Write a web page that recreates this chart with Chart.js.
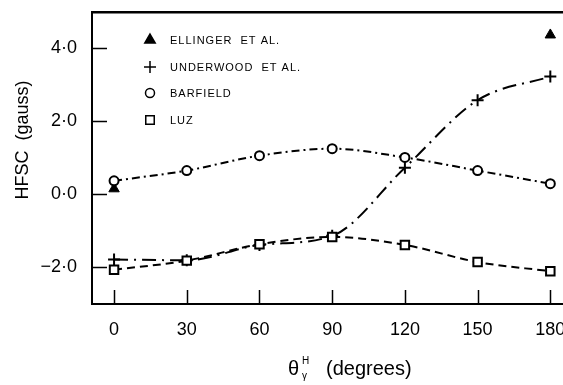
<!DOCTYPE html>
<html>
<head>
<meta charset="utf-8">
<script src="https://cdn.jsdelivr.net/npm/chart.js@4"></script>
<style>
    html, body { margin: 0; padding: 0; background: #fff; overflow: hidden; }
    #wrap { width: 600px; height: 385px; }
</style>
</head>
<body>
<div id="wrap"><canvas id="chart" width="600" height="385"></canvas></div>
<script>
// Data
const ANGLES = [0, 30, 60, 90, 120, 150, 180];
const BARFIELD = [0.36, 0.64, 1.05, 1.24, 1.0, 0.64, 0.28];
const LUZ = [-2.08, -1.83, -1.38, -1.18, -1.4, -1.87, -2.12];
const UNDERWOOD = [-1.8, -1.82, -1.4, -1.15, 0.72, 2.57, 3.22];
const ELLINGER_X = [0, 180];
const ELLINGER_Y = [0.14, 4.36];

const X_TICKS = [0, 30, 60, 90, 120, 150, 180];
const Y_TICKS = [-2, 0, 2, 4];

const FONT = "'Liberation Sans', Arial, sans-serif";
const INK = '#000';

function pts(xs, ys) {
    return xs.map((x, i) => ({ x: x, y: ys[i] }));
}

function fmtY(v) {
    const s = Math.abs(v).toFixed(1).replace('.', '\u00b7');
    return v < 0 ? '\u2212' + s : s;
}

// keep the plot box where the figure has it
function noPad(s) {
    s.paddingTop = 0;
    s.paddingBottom = 0;
    s.paddingLeft = 0;
    s.paddingRight = 0;
}

const LEGEND = [
    { label: 'ELLINGER  ET AL.', style: 'triangle', radius: 6, fill: INK },
    { label: 'UNDERWOOD  ET AL.', style: 'cross', radius: 6, fill: INK },
    { label: 'BARFIELD', style: 'circle', radius: 4.5, fill: '#fff' },
    { label: 'LUZ', style: 'rect', radius: 6, fill: '#fff' },
];

// short inward tick marks, legend and axis titles
const decorations = {
    id: 'decorations',
    afterDraw(chart) {
        const ctx = chart.ctx;
        const area = chart.chartArea;
        const xs = chart.scales.x;
        const ys = chart.scales.y;
        ctx.save();
        ctx.strokeStyle = INK;
        ctx.lineWidth = 1.5;
        ctx.beginPath();
        for (const v of Y_TICKS) {
            const py = Math.round(ys.getPixelForValue(v)) + 0.5;
            ctx.moveTo(area.left, py);
            ctx.lineTo(area.left + 15, py);
        }
        for (const v of X_TICKS) {
            const px = Math.round(xs.getPixelForValue(v)) + 0.5;
            ctx.moveTo(px, area.bottom);
            ctx.lineTo(px, area.bottom - 14);
        }
        ctx.stroke();

        // legend
        const lx = 150, tx = 170;
        const rows = [40, 67, 93, 120];
        LEGEND.forEach((item, i) => {
            ctx.fillStyle = item.fill;
            ctx.strokeStyle = INK;
            Chart.helpers.drawPoint(ctx, {
                pointStyle: item.style,
                radius: item.radius,
                borderWidth: 2,
                rotation: 0,
            }, lx, rows[i]);
            ctx.fillStyle = INK;
            ctx.font = '11px ' + FONT;
            ctx.letterSpacing = '1px';
            ctx.textBaseline = 'middle';
            ctx.textAlign = 'left';
            ctx.fillText(item.label, tx, rows[i] + 1);
        });
        ctx.letterSpacing = '0px';

        // y title
        ctx.save();
        ctx.translate(23, 140);
        ctx.rotate(-Math.PI / 2);
        ctx.font = '18px ' + FONT;
        ctx.textAlign = 'center';
        ctx.textBaseline = 'middle';
        ctx.fillText('HFSC  (gauss)', 0, 0);
        ctx.restore();

        // x title: theta with sub/superscript
        const by = 375;
        ctx.textAlign = 'left';
        ctx.textBaseline = 'alphabetic';
        ctx.font = '20px ' + FONT;
        ctx.fillText('\u03b8', 288, by);
        ctx.font = '10px ' + FONT;
        ctx.fillText('H', 302, by - 11);
        ctx.fillText('\u03b3', 302, by + 4);
        ctx.font = '20px ' + FONT;
        ctx.fillText('(degrees)', 326, by);
        ctx.restore();
    }
};

function lineSet(label, data, style, radius, fill, dash) {
    return {
        label: label,
        data: data,
        borderColor: INK,
        borderWidth: 2,
        borderDash: dash,
        cubicInterpolationMode: 'monotone',
        pointStyle: style,
        pointRadius: radius,
        pointBorderWidth: 2,
        pointBorderColor: INK,
        pointBackgroundColor: fill,
        fill: false,
    };
}

const X_MIN = -9.1;
const X_MAX = 197.2;

new Chart(document.getElementById('chart'), {
    type: 'line',
    data: {
        datasets: [
            lineSet('Barfield', pts(ANGLES, BARFIELD), 'circle', 4.5, '#fff', [8, 4, 2, 4]),
            lineSet('Luz', pts(ANGLES, LUZ), 'rect', 6, '#fff', [8, 5]),
            lineSet('Underwood et al.', pts(ANGLES, UNDERWOOD), 'cross', 6, INK, [14, 6, 2, 6]),
            {
                label: 'Ellinger et al.',
                data: pts(ELLINGER_X, ELLINGER_Y),
                showLine: false,
                pointStyle: 'triangle',
                pointRadius: 6,
                pointBorderWidth: 1,
                pointBorderColor: INK,
                pointBackgroundColor: INK,
            },
        ]
    },
    options: {
        responsive: false,
        animation: false,
        layout: { padding: { top: 12, right: 0, bottom: 0, left: 0 } },
        plugins: {
            legend: { display: false },
            tooltip: { enabled: false },
        },
        scales: {
            x: {
                type: 'linear',
                position: 'bottom',
                min: X_MIN,
                max: X_MAX,
                afterFit: s => { s.height = 81; noPad(s); },
                afterBuildTicks: s => { s.ticks = X_TICKS.map(v => ({ value: v })); },
                grid: { display: false, drawTicks: false },
                border: { display: true, color: INK, width: 2 },
                ticks: {
                    color: INK,
                    padding: 15,
                    maxRotation: 0,
                    font: { size: 18, family: FONT },
                },
            },
            x2: {
                type: 'linear',
                position: 'top',
                min: X_MIN,
                max: X_MAX,
                afterFit: s => { s.height = 0; noPad(s); },
                grid: { display: false, drawTicks: false },
                border: { display: true, color: INK, width: 2.5 },
                ticks: { display: false },
            },
            y: {
                type: 'linear',
                min: -3.02,
                max: 4.99,
                afterFit: s => { s.width = 92; noPad(s); },
                afterBuildTicks: s => { s.ticks = Y_TICKS.map(v => ({ value: v })); },
                grid: { display: false, drawTicks: false },
                border: { display: true, color: INK, width: 2 },
                ticks: {
                    color: INK,
                    padding: 15,
                    font: { size: 18, family: FONT },
                    callback: v => fmtY(v),
                },
            },
        }
    },
    plugins: [decorations]
});
</script>
</body>
</html>
